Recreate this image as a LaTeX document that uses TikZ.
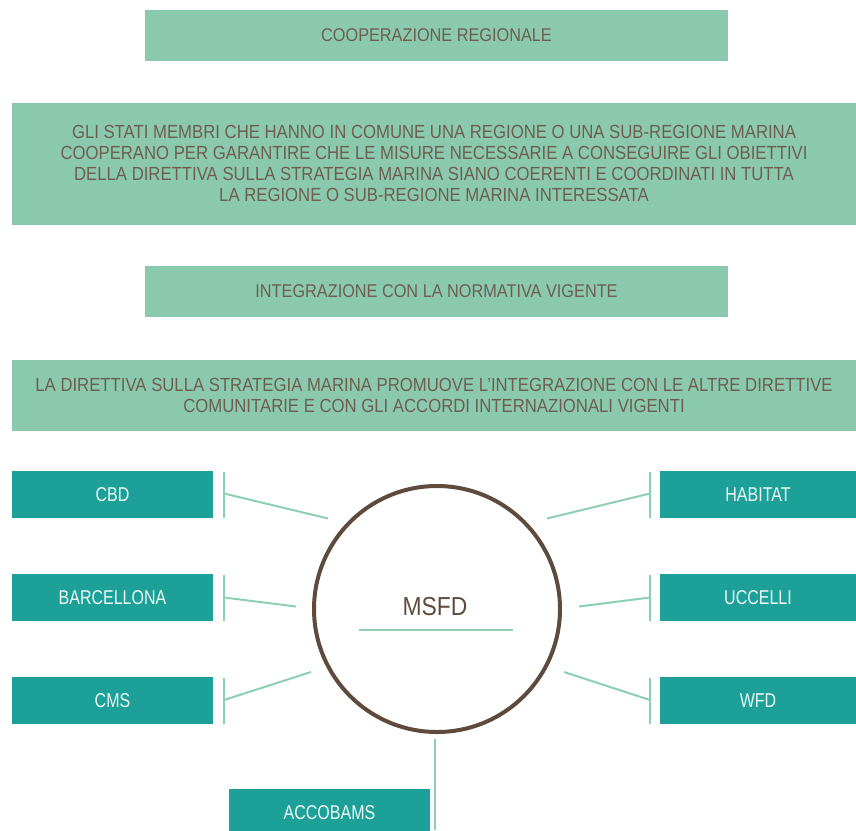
\documentclass[tikz,border=0pt]{standalone}
\usepackage{fontspec}
\setmainfont{Liberation Sans}[FakeStretch=0.8]
\newfontfamily\widefont{Liberation Sans}[FakeStretch=0.88]
\usetikzlibrary{positioning}
\definecolor{lightgreen}{HTML}{8AC9AD}
\definecolor{tealfill}{HTML}{1DA098}
\definecolor{brownline}{HTML}{5E4B3E}
\definecolor{greytext}{HTML}{6E5E52}
\definecolor{linkgreen}{HTML}{8DCFB2}
\tikzset{
  lightbox/.style={fill=lightgreen,text=greytext,inner sep=0pt,outer sep=0pt,align=center},
  titlefont/.style={font=\widefont\fontsize{18.5}{22}\selectfont},
  parfont/.style={font=\widefont\fontsize{19}{21}\selectfont},
  tealbox/.style={fill=tealfill,text=white!92!tealfill,inner sep=0pt,outer sep=0pt,
    minimum height=47pt,font=\fontsize{20}{24}\selectfont},
  link/.style={linkgreen,line width=2pt}
}
\begin{document}
\begin{tikzpicture}[x=1pt,y=-1pt]
    \useasboundingbox (0,0) rectangle (856,830);
    % upper boxes
    \node[lightbox,titlefont,minimum width=583pt,minimum height=51pt] (coop) at (436.5,35){COOPERAZIONE REGIONALE};
    \node[lightbox,parfont,minimum width=844pt,minimum height=122pt] (coopdesc) at (434,163.5){GLI STATI MEMBRI CHE HANNO IN COMUNE UNA REGIONE O UNA SUB-REGIONE MARINA\\COOPERANO PER GARANTIRE CHE LE MISURE NECESSARIE A CONSEGUIRE GLI OBIETTIVI\\DELLA DIRETTIVA SULLA STRATEGIA MARINA SIANO COERENTI E COORDINATI IN TUTTA\\LA REGIONE O SUB-REGIONE MARINA INTERESSATA};
    \node[lightbox,titlefont,minimum width=583pt,minimum height=51pt] (integ) at (436.5,291.5){INTEGRAZIONE CON LA NORMATIVA VIGENTE};
    \node[lightbox,parfont,minimum width=844pt,minimum height=71pt] (integdesc) at (434,395.5){LA DIRETTIVA SULLA STRATEGIA MARINA PROMUOVE L’INTEGRAZIONE CON LE ALTRE DIRETTIVE\\COMUNITARIE E CON GLI ACCORDI INTERNAZIONALI VIGENTI};
    % circle
    \node[draw=brownline,line width=4pt,circle,minimum size=246pt] (msfd) at (437,609){};
    \node[text=brownline,font=\widefont\fontsize{26}{30}\selectfont] (msfdlabel) at (435,606.5){MSFD};
    \coordinate (ulleft) at (359,629.5);
    \coordinate (ulright) at (513,629.5);
    \draw[link] (ulleft)--(ulright);
    % left boxes
    \node[tealbox,minimum width=201pt] (cbd) at (112.5,494.5){CBD};
    \node[tealbox,minimum width=201pt] (barc) at (112.5,597.5){BARCELLONA};
    \node[tealbox,minimum width=201pt] (cms) at (112.5,700.5){CMS};
    % right boxes
    \node[tealbox,minimum width=196pt] (habitat) at (758,494.5){HABITAT};
    \node[tealbox,minimum width=196pt] (uccelli) at (758,597.5){UCCELLI};
    \node[tealbox,minimum width=196pt] (wfd) at (758,700.5){WFD};
    % bottom box
    \node[tealbox,minimum width=201pt] (accobams) at (329.5,812.5){ACCOBAMS};
    % ticks
    \coordinate (cbdtop) at (224,472); \coordinate (cbdbot) at (224,518);
    \coordinate (barctop) at (224,575); \coordinate (barcbot) at (224,621);
    \coordinate (cmstop) at (224,678); \coordinate (cmsbot) at (224,724);
    \coordinate (habtop) at (650,472); \coordinate (habbot) at (650,518);
    \coordinate (uccttop) at (650,575); \coordinate (uccbot) at (650,621);
    \coordinate (wfdtop) at (650,678); \coordinate (wfdbot) at (650,724);
    \draw[link] (cbdtop)--(cbdbot);
    \draw[link] (barctop)--(barcbot);
    \draw[link] (cmstop)--(cmsbot);
    \draw[link] (habtop)--(habbot);
    \draw[link] (uccttop)--(uccbot);
    \draw[link] (wfdtop)--(wfdbot);
    % connectors
    \coordinate (cbdin) at (224,493.5); \coordinate (cbdout) at (328,518.5);
    \coordinate (barcin) at (224,597.5); \coordinate (barcout) at (296,606.5);
    \coordinate (cmsin) at (224,700); \coordinate (cmsout) at (311,672);
    \coordinate (habin) at (650,493.5); \coordinate (habout) at (547,518.5);
    \coordinate (uccin) at (650,597.5); \coordinate (uccout) at (579,606.5);
    \coordinate (wfdin) at (650,700); \coordinate (wfdout) at (564,672);
    \draw[link] (cbdin)--(cbdout);
    \draw[link] (barcin)--(barcout);
    \draw[link] (cmsin)--(cmsout);
    \draw[link] (habin)--(habout);
    \draw[link] (uccin)--(uccout);
    \draw[link] (wfdin)--(wfdout);
    \coordinate (accotop) at (435,739);
    \coordinate (accobot) at (435,830);
    \draw[link] (accotop)--(accobot);
\end{tikzpicture}
\end{document}
